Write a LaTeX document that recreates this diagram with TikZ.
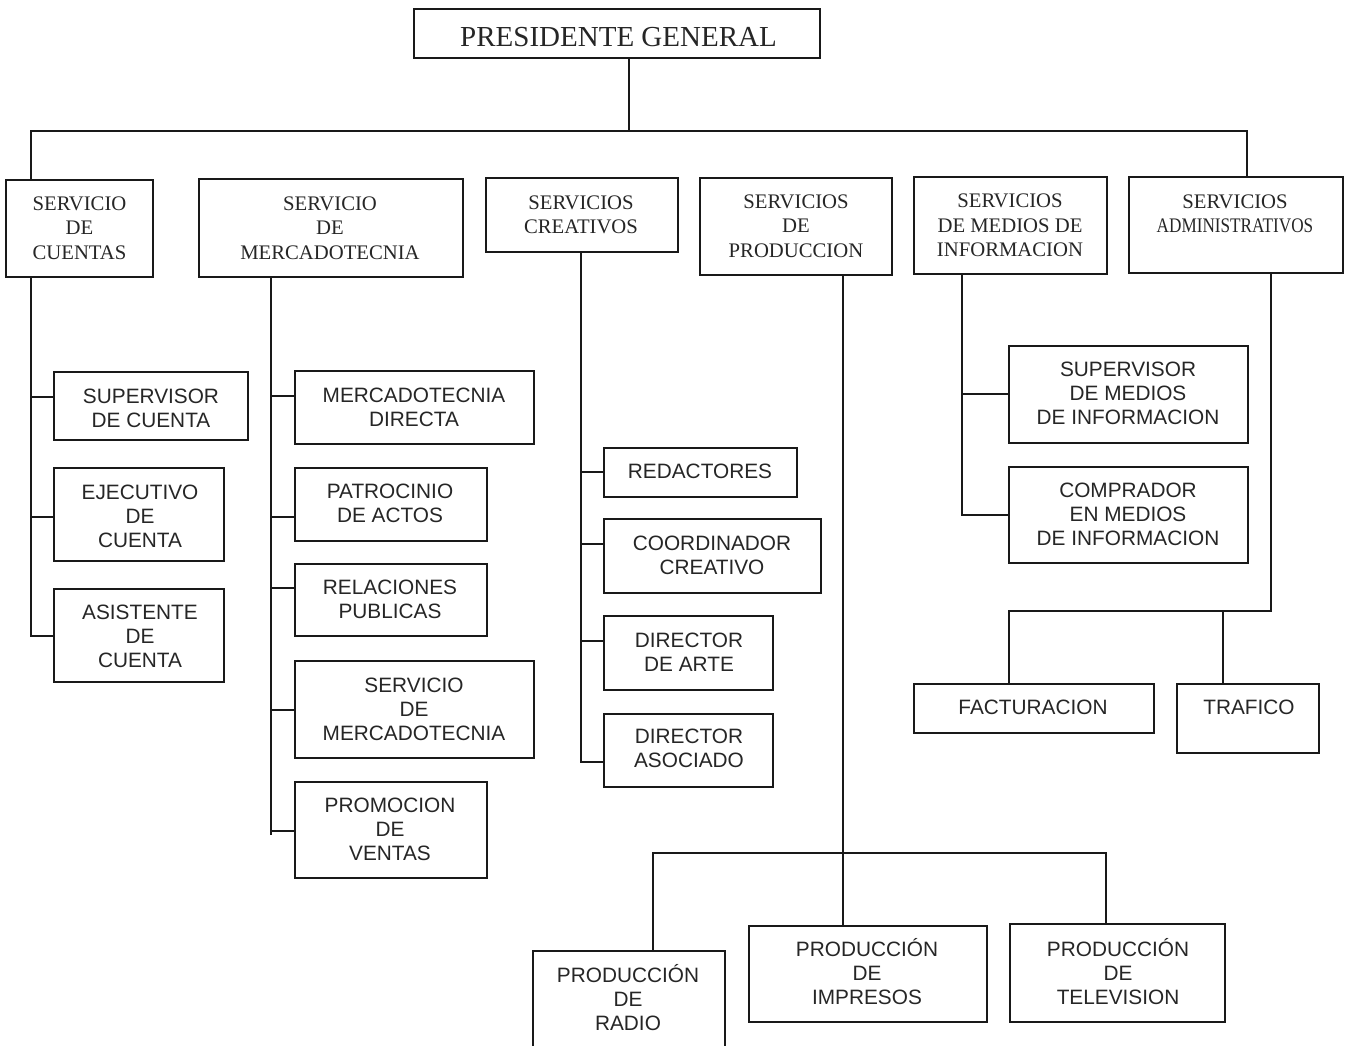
\documentclass[tikz,border=0pt]{standalone}
\usepackage{fontspec}
\setmainfont{Liberation Serif}
\newfontfamily\sansf{Liberation Sans}
\usepackage{graphicx}
\newcommand\obox[5]{\node[box, minimum width={#4-#2}, minimum height={#5-#3}] (#1) at ({(#2+#4)/2},{(#3+#5)/2}) {};}
\newcommand\otext[5]{\node[#4] (#1-t) at (#2,#3) {#5};}
\newcommand\branch[3]{\coordinate (#1-b) at ([yshift=#2]#1.west); \draw[conn] (#1-b) -- (#3 |- #1-b);}
\begin{document}
\begin{tikzpicture}[x=1pt,y=-1pt,
  box/.style={draw=black!90, line width=2pt, inner sep=0pt},
  conn/.style={draw=black!90, line width=2pt, line cap=rect},
  L1/.style={font=\fontsize{29}{33}\selectfont, inner sep=0pt, text=black!85},
  L2/.style={font=\fontsize{20.7}{24.5}\selectfont, align=center, inner sep=0pt, text=black!85},
  L3/.style={font=\sansf\fontsize{20.8}{24}\selectfont, align=center, inner sep=0pt, text=black!85}]
\useasboundingbox (0,0) rectangle (1349,1045);
\fill[white] (0,0) rectangle (1349,1045);

% ---- boxes ----
\obox{pres}{414}{9}{820}{58}
\obox{cuentas}{6}{180}{153}{277}
\obox{merc}{199}{179}{463}{277}
\obox{crea}{486}{178}{678}{252}
\obox{prod}{700}{178}{892}{275}
\obox{medios}{914}{177}{1107}{274}
\obox{admin}{1129}{177}{1343}{273}

\obox{supc}{54}{372}{248}{440}
\obox{ejec}{54}{468}{224}{561}
\obox{asis}{54}{589}{224}{682}

\obox{mdir}{295}{371}{534}{444}
\obox{patr}{295}{468}{487}{541}
\obox{rel}{295}{564}{487}{636}
\obox{smer}{295}{661}{534}{758}
\obox{prom}{295}{782}{487}{878}

\obox{red}{604}{448}{797}{497}
\obox{coord}{604}{519}{821}{593}
\obox{arte}{604}{616}{773}{690}
\obox{asoc}{604}{714}{773}{787}

\obox{supm}{1009}{346}{1248}{443}
\obox{comp}{1009}{467}{1248}{563}
\obox{fact}{914}{684}{1154}{733}
\obox{traf}{1177}{684}{1319}{753}

\obox{radio}{533}{951}{725}{1062}
\obox{impr}{749}{926}{987}{1022}
\obox{tv}{1010}{924}{1225}{1022}

% ---- texts ----
\otext{pres}{618.5}{37.5}{L1}{PRESIDENTE GENERAL}
\otext{cuentas}{79.5}{228}{L2}{SERVICIO\\DE\\CUENTAS}
\otext{merc}{330}{228}{L2}{SERVICIO\\DE\\MERCADOTECNIA}
\otext{crea}{581}{215}{L2}{SERVICIOS\\CREATIVOS}
\otext{prod}{796}{226}{L2}{SERVICIOS\\DE\\PRODUCCION}
\otext{medios}{1010}{225.5}{L2}{SERVICIOS\\DE MEDIOS DE\\INFORMACION}
\otext{admin}{1235}{214}{L2}{SERVICIOS\\\scalebox{0.83}[1]{ADMINISTRATIVOS}}

\otext{supc}{151}{408}{L3}{SUPERVISOR\\DE CUENTA}
\otext{ejec}{140}{516}{L3}{EJECUTIVO\\DE\\CUENTA}
\otext{asis}{140}{636.5}{L3}{ASISTENTE\\DE\\CUENTA}

\otext{mdir}{414}{407}{L3}{MERCADOTECNIA\\DIRECTA}
\otext{patr}{390}{503.5}{L3}{PATROCINIO\\DE ACTOS}
\otext{rel}{390}{599}{L3}{RELACIONES\\PUBLICAS}
\otext{smer}{414}{709}{L3}{SERVICIO\\DE\\MERCADOTECNIA}
\otext{prom}{390}{829.5}{L3}{PROMOCION\\DE\\VENTAS}

\otext{red}{700}{471}{L3}{REDACTORES}
\otext{coord}{712}{555.5}{L3}{COORDINADOR\\CREATIVO}
\otext{arte}{689}{652}{L3}{DIRECTOR\\DE ARTE}
\otext{asoc}{689}{748.5}{L3}{DIRECTOR\\ASOCIADO}

\otext{supm}{1128}{393.5}{L3}{SUPERVISOR\\DE MEDIOS\\DE INFORMACION}
\otext{comp}{1128}{514}{L3}{COMPRADOR\\EN MEDIOS\\DE INFORMACION}
\otext{fact}{1033}{707}{L3}{FACTURACION}
\otext{traf}{1249}{707}{L3}{TRAFICO}

\otext{radio}{628}{999}{L3}{PRODUCCI\smash{Ó}N\\DE\\RADIO}
\otext{impr}{867}{973.5}{L3}{PRODUCCI\smash{Ó}N\\DE\\IMPRESOS}
\otext{tv}{1118}{973.5}{L3}{PRODUCCI\smash{Ó}N\\DE\\TELEVISION}

% ---- top connectors ----
\coordinate (barL) at (31,131);
\coordinate (barR) at (1247,131);
\coordinate (presD) at ([xshift=12pt]pres.south);
\draw[conn] (presD) -- (presD |- barL);
\draw[conn] (barL |- cuentas.north) -- (barL) -- (barR) -- (barR |- admin.north);

% ---- cuentas ----
\branch{supc}{9pt}{barL}
\branch{ejec}{-2pt}{barL}
\branch{asis}{-0.5pt}{barL}
\draw[conn] (barL |- cuentas.south) -- (barL |- asis-b);

% ---- mercadotecnia ----
\coordinate (mS) at ([xshift=-60pt]merc.south);
\branch{mdir}{11.5pt}{mS}
\branch{patr}{-12.5pt}{mS}
\branch{rel}{12pt}{mS}
\branch{smer}{-0.5pt}{mS}
\branch{prom}{-1pt}{mS}
\draw[conn] (mS) -- (mS |- prom-b) -- ++(0,3);

% ---- creativos ----
\coordinate (cS) at ([xshift=-1pt]crea.south);
\branch{red}{0.5pt}{cS}
\branch{coord}{12pt}{cS}
\branch{arte}{12pt}{cS}
\branch{asoc}{-11.5pt}{cS}
\draw[conn] (cS) -- (cS |- asoc-b);

% ---- medios ----
\coordinate (dS) at ([xshift=-48.5pt]medios.south);
\branch{supm}{0.5pt}{dS}
\branch{comp}{0pt}{dS}
\draw[conn] (dS) -- (dS |- comp-b);

% ---- administrativos ----
\coordinate (aS) at ([xshift=35pt]admin.south);
\coordinate (aJ) at (0,611);
\coordinate (fD) at ([xshift=-25pt]fact.north);
\coordinate (tD) at ([xshift=-25pt]traf.north);
\draw[conn] (aS) -- (aS |- aJ) -- (fD |- aJ) -- (fD);
\draw[conn] (tD |- aJ) -- (tD);

% ---- produccion ----
\coordinate (pS) at ([xshift=47pt]prod.south);
\coordinate (pJ) at (0,853);
\coordinate (rD) at ([xshift=24pt]radio.north);
\coordinate (vD) at ([xshift=-11.5pt]tv.north);
\draw[conn] (pS) -- (pS |- impr.north);
\draw[conn] (rD) -- (rD |- pJ) -- (vD |- pJ) -- (vD);
\end{tikzpicture}
\end{document}
